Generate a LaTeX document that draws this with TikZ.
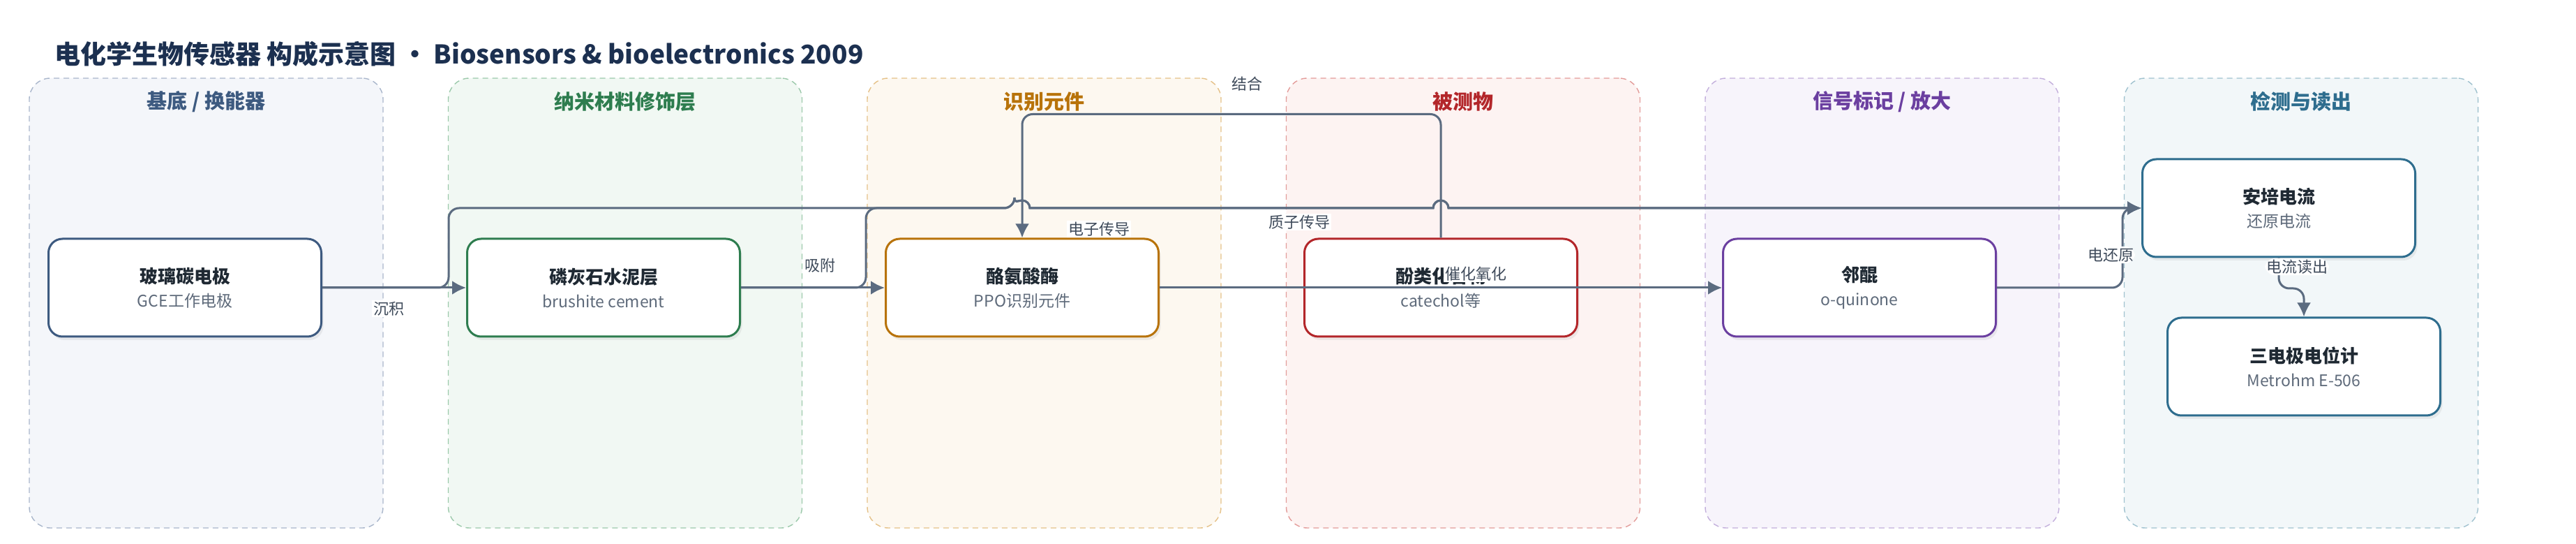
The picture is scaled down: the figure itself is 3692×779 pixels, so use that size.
\documentclass[tikz,border=0pt]{standalone}
\usepackage{fontspec}
\setmainfont{Noto Sans CJK SC}
\usetikzlibrary{shapes,arrows.meta,calc,shadows}

\definecolor{edgegray}{HTML}{5B6B80}
\definecolor{labelgray}{HTML}{3F4B5B}
\definecolor{subgray}{HTML}{5E6A7A}
\definecolor{titlenavy}{HTML}{1C3050}
\definecolor{boxtext}{HTML}{1F2933}
\definecolor{baseC}{HTML}{3D5A80}\definecolor{baseB}{HTML}{A9B6CB}\definecolor{baseF}{HTML}{F4F6FA}
\definecolor{nanoC}{HTML}{2E7D4F}\definecolor{nanoB}{HTML}{9CC9AB}\definecolor{nanoF}{HTML}{F1F8F3}
\definecolor{recoC}{HTML}{B8730A}\definecolor{recoB}{HTML}{E5C188}\definecolor{recoF}{HTML}{FDF8F0}
\definecolor{anaC}{HTML}{B3262A}\definecolor{anaB}{HTML}{E39C9A}\definecolor{anaF}{HTML}{FDF3F2}
\definecolor{sigC}{HTML}{6B3FA0}\definecolor{sigB}{HTML}{C3AFDC}\definecolor{sigF}{HTML}{F7F4FB}
\definecolor{detC}{HTML}{2E6D8E}\definecolor{detB}{HTML}{A0C2CF}\definecolor{detF}{HTML}{F2F7F9}

\tikzset{lane/.style={draw, dash pattern=on 4pt off 3pt, line width=0.7pt, rounded corners=15pt, minimum width=253.5pt, minimum height=322pt}}
\tikzset{lanetitle/.style={font=\fontsize{14.5}{17}\selectfont\bfseries}}
\tikzset{box/.style={draw, rectangle, rounded corners=10pt, line width=1.5pt, fill=white, node distance=300pt, minimum width=195.5pt, minimum height=70pt, align=center, font=\fontsize{12}{17}\selectfont, drop shadow={shadow xshift=1.5pt, shadow yshift=-2.5pt, opacity=0.12}}}
\tikzset{line/.style={draw, line width=1.5pt, color=edgegray, -{Latex[length=10pt,width=10pt]}}}
\tikzset{lbl/.style={fill=white, inner sep=1pt, text=labelgray, font=\fontsize{11}{13}\selectfont}}

\newcommand{\boxtext}[2]{{\fontsize{13}{17}\selectfont\bfseries\color{boxtext}#1}\\{\fontsize{11.5}{17}\selectfont\color{subgray}#2}}

\begin{document}
\begin{tikzpicture}[x=0.5pt,y=-0.5pt]

\path[use as bounding box, fill=white] (0,0) rectangle (3692,779);

\node[anchor=west, inner sep=0pt, font=\fontsize{18.5}{22}\selectfont\bfseries, text=titlenavy] (title) at (78,77) {电化学生物传感器 构成示意图 • Biosensors \& bioelectronics 2009};

%LANES
\node[lane, draw=baseB, fill=baseF] (lane1) at (295.5,434) {};
\node[lane, draw=nanoB, fill=nanoF] (lane2) at (896,434) {};
\node[lane, draw=recoB, fill=recoF] (lane3) at (1496.5,434) {};
\node[lane, draw=anaB, fill=anaF] (lane4) at (2097,434) {};
\node[lane, draw=sigB, fill=sigF] (lane5) at (2697.5,434) {};
\node[lane, draw=detB, fill=detF] (lane6) at (3298,434) {};

\node[lanetitle, text=baseC] at ($(lane1.north)+(0,34)$) {基底 / 换能器};
\node[lanetitle, text=nanoC] at ($(lane2.north)+(0,34)$) {纳米材料修饰层};
\node[lanetitle, text=recoC] at ($(lane3.north)+(0,34)$) {识别元件};
\node[lanetitle, text=anaC] at ($(lane4.north)+(0,34)$) {被测物};
\node[lanetitle, text=sigC] at ($(lane5.north)+(0,34)$) {信号标记 / 放大};
\node[lanetitle, text=detC] at ($(lane6.north)+(0,34)$) {检测与读出};

%BOXES
\node[box, draw=baseC] (gce) at (265,412) {\boxtext{玻璃碳电极}{GCE工作电极}};
\node[box, draw=nanoC, right of=gce] (brushite) {\boxtext{磷灰石水泥层}{brushite cement}};
\node[box, draw=recoC, right of=brushite] (ppo) {\boxtext{酪氨酸酶}{PPO识别元件}};
\node[box, draw=anaC, right of=ppo] (phenol) {\boxtext{酚类化合物}{catechol等}};
\node[box, draw=sigC, right of=phenol] (quinone) {\boxtext{邻醌}{o-quinone}};
\node[box, draw=detC] (amp) at (3266,298) {\boxtext{安培电流}{还原电流}};
\node[box, draw=detC] (pot) at (3302,525) {\boxtext{三电极电位计}{Metrohm E-506}};

%ELECTRODE
\path[line] (gce) -- (brushite) node[lbl] at (557,442) {沉积};
\path[line] (gce.east) [rounded corners=7.5pt] -- (643,412) -- (643,298) -- (1454,298) [sharp corners] arc[start angle=180, end angle=0, radius=5.5pt] -- (2054,298) arc[start angle=180, end angle=0, radius=5.5pt] -- (amp.west) node[lbl] at (1575,328) {电子传导};

%CEMENT
\path[line] (brushite) -- (ppo) node[lbl] at (1175,380) {吸附};
\path[line] (brushite.east) [rounded corners=7.5pt] -- (1241,412) -- (1241,298) -- (1454,298) [sharp corners] arc[start angle=180, end angle=0, radius=5.5pt] -- (2054,298) arc[start angle=180, end angle=0, radius=5.5pt] -- (amp.west) node[lbl] at (1862,318) {质子传导};

%ENZYME AND ANALYTE
\path[line] (phenol.north) [rounded corners=7.5pt] -- ++(0,-177) -| (ppo.north) node[lbl] at (1787,120) {结合};
\path[line] (ppo) -- (quinone) node[lbl] at (2115,392) {催化氧化};

%READOUT
\path[line] (quinone.east) [rounded corners=7.5pt] -- (3042,412) -- (3042,298) -- (amp.west) node[lbl] at (3025,365) {电还原};
\path[line] (amp.south) [rounded corners=7.5pt] -- (3266,413) -- (3302,413) -- (pot.north) node[lbl] at (3292,382) {电流读出};

\end{tikzpicture}
\end{document}
